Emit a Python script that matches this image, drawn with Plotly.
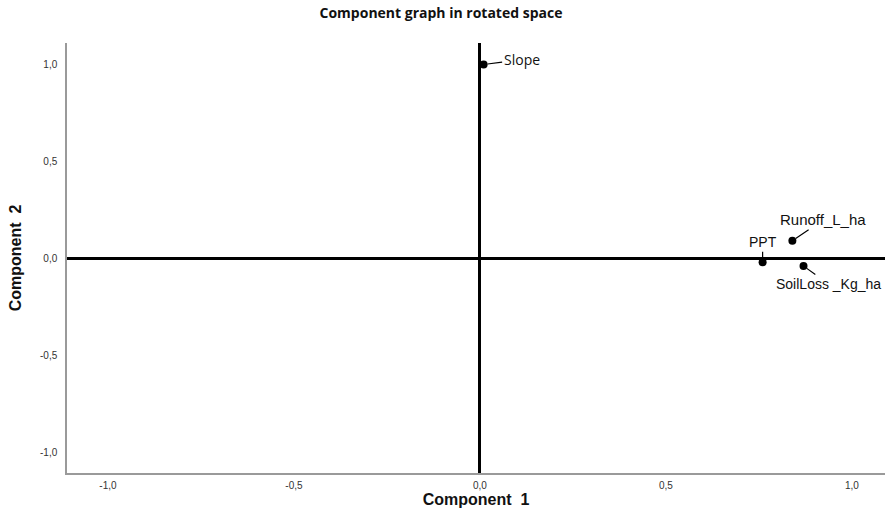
import plotly.graph_objects as go

variables = ["Slope", "PPT", "Runoff_L_ha", "SoilLoss _Kg_ha"]
comp1 = [0.01, 0.76, 0.84, 0.87]
comp2 = [1.00, -0.02, 0.09, -0.04]
tick_vals = [-1.0, -0.5, 0.0, 0.5, 1.0]
tick_text = ["-1,0", "-0,5", "0,0", "0,5", "1,0"]

# label offsets (pixels) and fonts
offsets = {"Slope": (38, -5), "PPT": (0, -20), "Runoff_L_ha": (31, -21), "SoilLoss _Kg_ha": (25, 18)}
fonts = {"Slope": ("Open Sans", 14), "PPT": ("Liberation Sans", 14),
         "Runoff_L_ha": ("Liberation Sans", 15), "SoilLoss _Kg_ha": ("Liberation Sans", 14)}

fig = go.Figure()
fig.add_trace(go.Scatter(x=comp1, y=comp2, mode="markers",
                         marker=dict(color="black", size=8), hoverinfo="text",
                         text=variables, showlegend=False, cliponaxis=False))

for name, x, y in zip(variables, comp1, comp2):
    ax, ay = offsets[name]
    fam, sz = fonts[name]
    fig.add_annotation(x=x, y=y, xref="x", yref="y", text=name, showarrow=True,
                       arrowhead=0, arrowwidth=1.2, arrowcolor="black", standoff=4,
                       ax=ax, ay=ay, font=dict(family=fam, size=sz, color="#111"))

fig.update_layout(
    width=885, height=509,
    margin=dict(l=67, r=0, t=43, b=36),
    plot_bgcolor="white", paper_bgcolor="white",
    title=dict(text="<b>Component graph in rotated space</b>", x=441/885, xanchor="center",
               y=1 - 13/509, yanchor="middle",
               font=dict(family="Open Sans", size=14, color="#111")),
    xaxis=dict(range=[-1.110, 1.089], tickvals=tick_vals, ticktext=tick_text,
               showgrid=False, zeroline=True, zerolinecolor="black", zerolinewidth=3,
               showline=True, linecolor="#9a9a9a", linewidth=1.5, ticks="",
               ticklabelstandoff=2,
               tickfont=dict(family="Liberation Sans", size=10, color="#333"),
               title=dict(text="<b>Component  1</b>", standoff=3,
                          font=dict(family="Liberation Sans", size=16, color="#111"))),
    yaxis=dict(range=[-1.108, 1.111], tickvals=tick_vals, ticktext=tick_text,
               showgrid=False, zeroline=True, zerolinecolor="black", zerolinewidth=3,
               showline=True, linecolor="#9a9a9a", linewidth=1.5, ticks="",
               ticklabelstandoff=6,
               tickfont=dict(family="Liberation Sans", size=10, color="#333"),
               title=dict(text="<b>Component  2</b>", standoff=14,
                          font=dict(family="Liberation Sans", size=16, color="#111"))),
)

fig.write_html("out.html", config={"displayModeBar": False},
               post_script="document.body.style.margin='0';document.body.style.overflow='hidden';")
